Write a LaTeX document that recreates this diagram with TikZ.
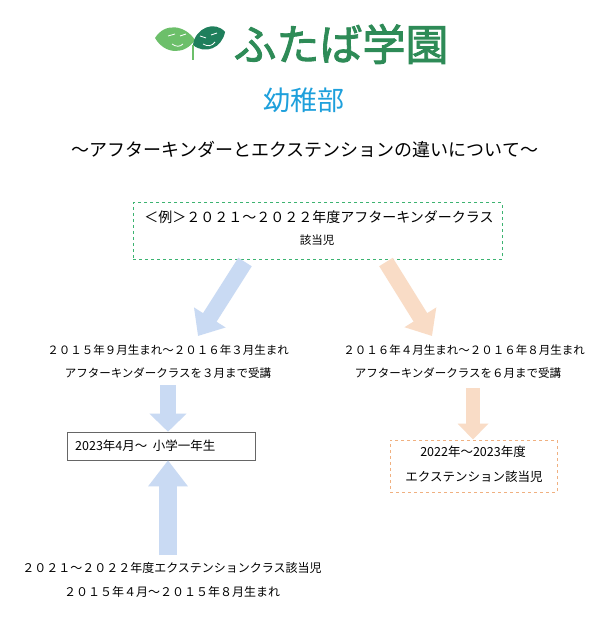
\documentclass[tikz,border=0pt]{standalone}
\usepackage{fontspec}
\setmainfont{Noto Sans CJK JP}
\newfontfamily\cjkb{Noto Sans CJK JP}[FakeBold=2]
\usetikzlibrary{arrows.meta}
\definecolor{lgreen}{HTML}{2E8B57}
\definecolor{leafA}{HTML}{6CBF6A}
\definecolor{leafB}{HTML}{1F7F5C}
\definecolor{skyc}{HTML}{1EA0DC}
\definecolor{bluearr}{HTML}{C9DAF3}
\definecolor{orarr}{HTML}{F9DCC6}
\definecolor{gdash}{HTML}{3CB371}
\definecolor{odash}{HTML}{F0B080}
\tikzset{
  txt/.style={font=\fontsize{11.5}{13}\selectfont, inner sep=0pt},
  barrow/.style={line width=16pt, draw=bluearr, -{Triangle[length=22pt,width=36pt]}},
  oarrow/.style={line width=16pt, draw=orarr, -{Triangle[length=22pt,width=36pt]}},
}
\begin{document}
\begin{tikzpicture}[x=1pt,y=-1pt]
\useasboundingbox[fill=white] (0,0) rectangle (600,617);
% logo
\fill[leafA] (155,38) .. controls (165,22) and (185,25) .. (195,40) .. controls (185,55) and (165,55) .. cycle;
\fill[leafB] (225,32) .. controls (215,20) and (195,28) .. (193,45) .. controls (205,55) and (222,48) .. cycle;
\draw[leafA,line width=2.5pt] (193,45) -- (193,60);
\draw[white,line width=0.8pt] (168,36) -- (175,34) (180,36) -- (186,34) (172,44) .. controls (176,47) and (180,47) .. (183,44);
\draw[white,line width=0.8pt] (200,36) -- (206,38) (211,35) -- (217,33) (203,44) .. controls (208,47) and (212,46) .. (215,42);
\node[inner sep=0pt, text=lgreen, font=\cjkb\fontsize{43}{45}\selectfont] (logo) at (341,44) {ふたば学園};
\node[inner sep=0pt, text=skyc, font=\fontsize{27}{29}\selectfont] (dept) at (304,100) {幼稚部};
\node[inner sep=0pt, font=\fontsize{18}{20}\selectfont] (sub) at (305,150) {～アフターキンダーとエクステンションの違いについて～};
% top box
\node[draw=gdash, dashed, line width=1pt, minimum width=369pt, minimum height=56pt, inner sep=0pt] (top) at (317.5,231) {};
\node[txt, font=\fontsize{14}{16}\selectfont] (t1) at (319,217) {＜例＞２０２１～２０２２年度アフターキンダークラス};
\node[txt] (t2) at (317,240) {該当児};
% diagonal arrows
\coordinate (ba1) at (245,262); \coordinate (ba2) at (198,336);
\coordinate (oa1) at (386,262); \coordinate (oa2) at (432,336);
\draw[barrow] (ba1) -- (ba2);
\draw[oarrow] (oa1) -- (oa2);
% texts
\node[txt] (l1) at (168,350) {２０１５年９月生まれ～２０１６年３月生まれ};
\node[txt] (l2) at (168,373) {アフターキンダークラスを３月まで受講};
\node[txt] (r1) at (464,350) {２０１６年４月生まれ～２０１６年８月生まれ};
\node[txt] (r2) at (458,373) {アフターキンダークラスを６月まで受講};
% school box
\node[draw=black!60, line width=0.6pt, minimum width=188pt, minimum height=28pt, inner sep=0pt] (sch) at (161,446) {};
\node[txt, anchor=west, font=\fontsize{12.5}{14}\selectfont] (scht) at (75,446) {2023年4月～\ \ 小学一年生};
\coordinate (bd1) at (168,385);
\draw[barrow, -{Triangle[length=18pt,width=36pt]}] (bd1) -- (sch.north -| bd1);
\coordinate (bu1) at (168,555);
\draw[barrow, line width=18pt, -{Triangle[length=26pt,width=38pt]}] (bu1) -- (sch.south -| bu1);
% extension box
\node[draw=odash, dashed, line width=1pt, minimum width=167pt, minimum height=52pt, inner sep=0pt] (ext) at (473.5,466) {};
\node[txt, font=\fontsize{12.5}{14}\selectfont] (e1) at (473,452) {2022年～2023年度};
\node[txt, font=\fontsize{12.5}{14}\selectfont] (e2) at (474,477) {エクステンション該当児};
\coordinate (od1) at (473,388);
\draw[oarrow, line width=14pt, -{Triangle[length=16pt,width=30pt]}] (od1) -- (ext.north -| od1);
% bottom
\node[txt, font=\fontsize{12}{14}\selectfont] (b1) at (172,568) {２０２１～２０２２年度エクステンションクラス該当児};
\node[txt, font=\fontsize{12}{14}\selectfont] (b2) at (172,592) {２０１５年４月～２０１５年８月生まれ};
\end{tikzpicture}
\end{document}
